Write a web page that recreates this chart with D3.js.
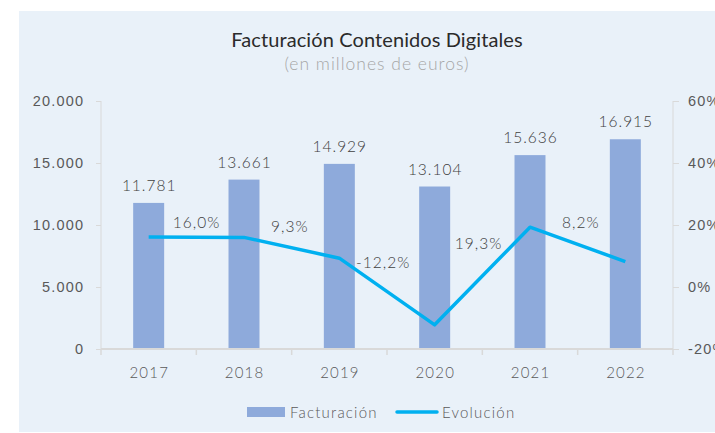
<!DOCTYPE html>
<html>
<head>
<meta charset="utf-8">
<script src="https://cdn.jsdelivr.net/npm/d3@7"></script>
<style>
  html, body { margin: 0; padding: 0; background: #ffffff; }
  svg { display: block; font-family: Lato, "Open Sans", sans-serif; }
</style>
</head>
<body>
<svg id="chart" width="715" height="433"></svg>
<script>
const years = ["2017", "2018", "2019", "2020", "2021", "2022"];
const facturacion = [11781, 13661, 14929, 13104, 15636, 16915];
const evolucion = [16.1, 16.0, 9.3, -12.2, 19.3, 8.2];
const evolucionLabels = [null, "16,0%", "9,3%", "-12,2%", "19,3%", "8,2%"];
const leftTicks = [0, 5000, 10000, 15000, 20000];
const rightTicks = [-20, 0, 20, 40, 60];
const title = "Facturación Contenidos Digitales";
const subtitle = "(en millones de euros)";
const legendLabels = ["Facturación", "Evolución"];

const svg = d3.select("#chart");
const locale = d3.formatLocale({decimal: ",", thousands: ".", grouping: [3], currency: ["", "€"]});
const fmtInt = locale.format(",d");

const L = 101, R = 673, T = 101, B = 349;
const barColor = "#8eaadb", lineColor = "#00b0f0", axisColor = "#d9d9d9", textColor = "#595959";

// panel background
svg.append("rect").attr("x", 19).attr("y", 11).attr("width", 715 - 19).attr("height", 433 - 11 - 1)
  .attr("fill", "#e9f1f9");

// titles
svg.append("text").attr("x", 377).attr("y", 47).attr("text-anchor", "middle")
  .attr("font-size", 20).attr("letter-spacing", 0.1).attr("fill", "#2b2b2b").text(title);
svg.append("text").attr("x", 377).attr("y", 69.5).attr("text-anchor", "middle")
  .attr("font-size", 17.5).attr("letter-spacing", 1).attr("font-weight", 300).attr("fill", "#a6a6a6").text(subtitle);

const x = d3.scaleBand().domain(years).range([L, R]).paddingInner(0.675).paddingOuter(0.3375);
const cx = d => x(d) + x.bandwidth() / 2;
const yL = d3.scaleLinear().domain([0, 20000]).range([B, T]);
const yR = d3.scaleLinear().domain([-20, 60]).range([B, T]);

// left axis
const gL = svg.append("g").attr("transform", `translate(${L},0)`)
  .call(d3.axisLeft(yL).tickValues(leftTicks).tickFormat(fmtInt).tickSize(5).tickPadding(13));
// right axis
const gR = svg.append("g").attr("transform", `translate(${R},0)`)
  .call(d3.axisRight(yR).tickValues(rightTicks).tickFormat(d => d + "%").tickSize(6).tickPadding(9));
[gL, gR].forEach(g => {
  g.select(".domain").attr("stroke", axisColor).attr("d", `M0,${T}V${B}`);
  g.selectAll(".tick line").attr("stroke", axisColor);
  g.selectAll(".tick text").attr("fill", textColor).attr("font-size", 14.5)
    .attr("letter-spacing", 1.2).attr("font-weight", 300);
});
gL.selectAll(".tick text").attr("dx", 1.2);

// bars
svg.append("g").selectAll("rect").data(years).join("rect")
  .attr("x", d => x(d)).attr("width", x.bandwidth())
  .attr("y", (d, i) => yL(facturacion[i])).attr("height", (d, i) => B - yL(facturacion[i]))
  .attr("fill", barColor);

// x axis
const xBoundaries = years.map(d => x(d) - x.step() * x.paddingInner() / 2).concat([R]);
const gX = svg.append("g");
gX.append("line").attr("x1", L).attr("x2", R).attr("y1", B).attr("y2", B)
  .attr("stroke", axisColor).attr("stroke-width", 2);
gX.selectAll("line.tk").data(xBoundaries.map((v, i) => i === 0 ? L : v)).join("line").attr("class", "tk")
  .attr("x1", d => d).attr("x2", d => d).attr("y1", B).attr("y2", B + 6)
  .attr("stroke", axisColor).attr("stroke-width", 1.5);
gX.selectAll("text").data(years).join("text")
  .attr("x", d => cx(d) + 0.6).attr("y", 378).attr("text-anchor", "middle")
  .attr("fill", textColor).attr("font-size", 15).attr("letter-spacing", 1.2).attr("font-weight", 300).text(d => d);

// bar labels
svg.append("g").selectAll("text").data(years).join("text")
  .attr("x", d => cx(d) + 0.5).attr("y", (d, i) => yL(facturacion[i]) - 12).attr("text-anchor", "middle")
  .attr("fill", "#404040").attr("font-size", 15.5).attr("letter-spacing", 1).attr("font-weight", 300)
  .text((d, i) => fmtInt(facturacion[i]));

// line
const line = d3.line().x((d, i) => cx(years[i])).y(d => yR(d));
svg.append("path").datum(evolucion).attr("d", line)
  .attr("fill", "none").attr("stroke", lineColor).attr("stroke-width", 3.5)
  .attr("stroke-linejoin", "round").attr("stroke-linecap", "butt");

// line labels (placed to the left of each point)
const labelDx = [0, -48, -50, -52, -52, -45];
const labelDy = [0, -15, -32, -62, 16, -39];
svg.append("g").selectAll("text").data(years.map((d, i) => i).filter(i => evolucionLabels[i])).join("text")
  .attr("x", i => cx(years[i]) + labelDx[i] + 0.5)
  .attr("y", i => yR(evolucion[i]) + labelDy[i] + 5.5)
  .attr("text-anchor", "middle").attr("fill", "#404040").attr("font-size", 15.5)
  .attr("letter-spacing", 1).attr("font-weight", 300)
  .text(i => evolucionLabels[i]);

// legend
const lg = svg.append("g");
lg.append("rect").attr("x", 247).attr("y", 407).attr("width", 38).attr("height", 10).attr("fill", barColor);
lg.append("text").attr("x", 290).attr("y", 417.5).attr("fill", textColor).attr("font-size", 15)
  .attr("letter-spacing", 1.2).attr("font-weight", 300).text(legendLabels[0]);
lg.append("line").attr("x1", 397).attr("x2", 437).attr("y1", 412).attr("y2", 412)
  .attr("stroke", lineColor).attr("stroke-width", 3.5).attr("stroke-linecap", "round");
lg.append("text").attr("x", 442).attr("y", 417.5).attr("fill", textColor).attr("font-size", 15)
  .attr("letter-spacing", 1.2).attr("font-weight", 300).text(legendLabels[1]);
</script>
</body>
</html>
